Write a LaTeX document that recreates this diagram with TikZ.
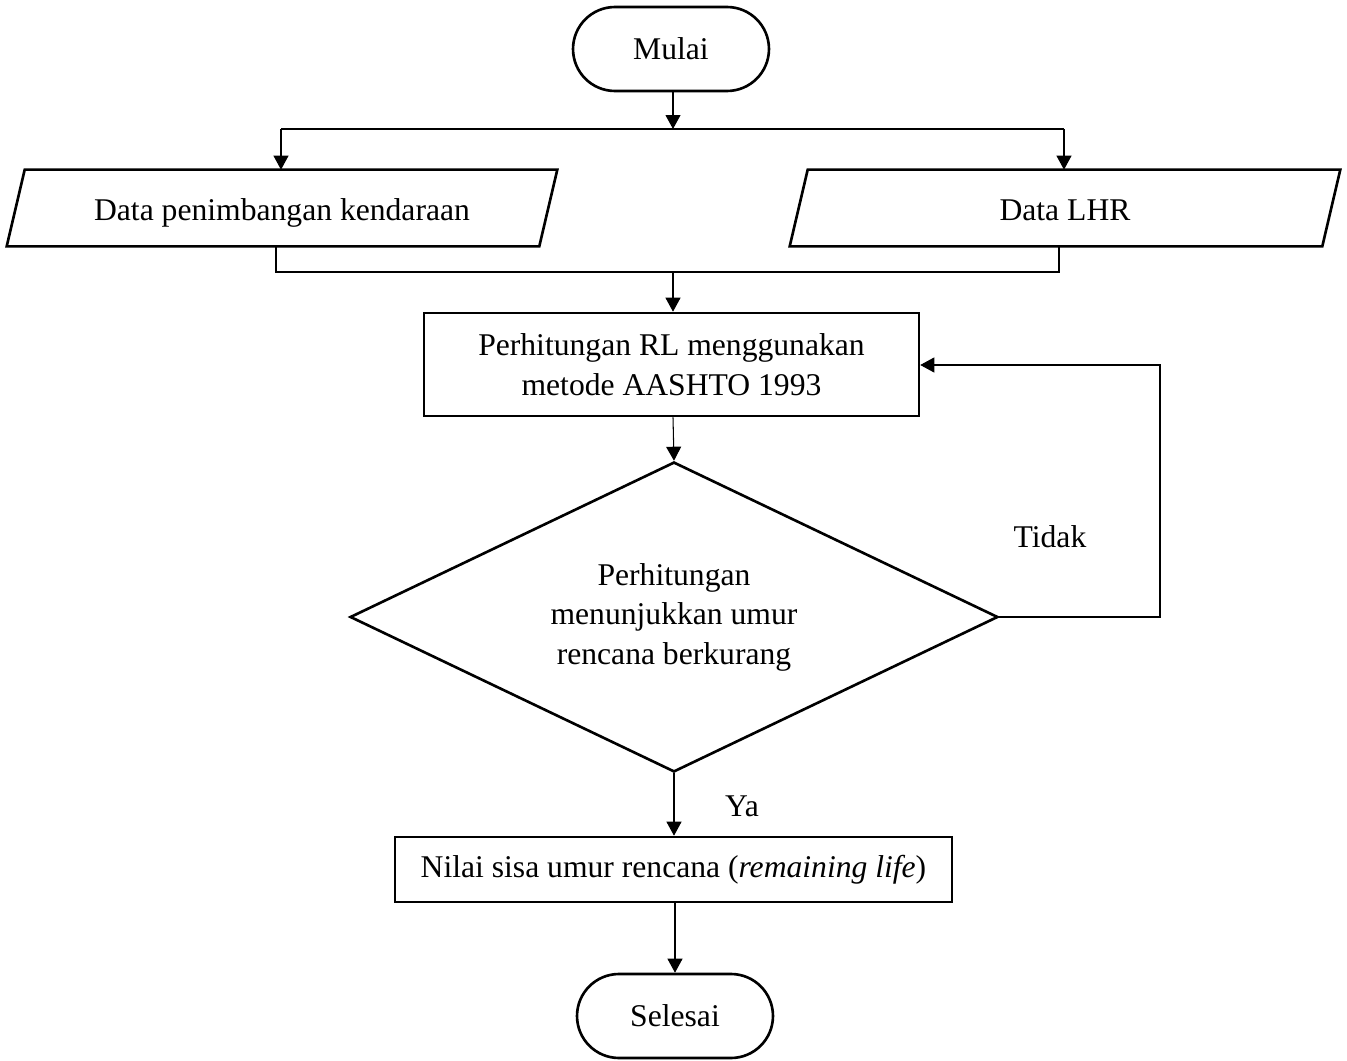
\documentclass[tikz,border=0pt]{standalone}
\usepackage{fontspec}
\setmainfont{Liberation Serif}
\usetikzlibrary{arrows.meta,shapes.geometric,shapes.misc,calc}

\begin{document}
\begin{tikzpicture}[
  x=0.02cm, y=-0.02cm,
  font=\fontsize{18}{22.5}\selectfont,
  shapeline/.style={draw, line width=1.5pt},
  terminal/.style={shapeline, rounded rectangle, minimum width=3.92cm, minimum height=1.68cm, inner sep=0pt},
  procbox/.style={shapeline, rectangle, align=center, inner sep=0pt},
  decision/.style={shapeline, diamond, aspect=2.1, align=center, inner sep=0pt,
                   minimum width=12.96cm, minimum height=6.2cm},
  iobase/.style={minimum width=10.64cm, minimum height=1.52cm, inner sep=0pt,
                 text height=0.72em, text depth=0em},
  conn/.style={line width=0.6pt},
  flow/.style={conn, -{Triangle[length=0.28cm, width=0.3cm]}},
  lbl/.style={inner sep=0pt}
]
% page frame
\useasboundingbox (0,0) rectangle (1347,1061);

% terminals
\node[terminal] (start) at (671,49) {Mulai};
\node[terminal] (stop) at (675,1016) {Selesai};

% input data (parallelograms drawn around text nodes)
\node[iobase] (weigh) at (282,208) {\raisebox{-0.2em}{Data penimbangan kendaraan}};
\node[iobase] (lhr) at (1065,208) {\raisebox{-0.2em}{Data LHR}};
\foreach \n in {weigh,lhr}{
  \draw[shapeline] ($(\n.north west)+(9,0)$) -- ($(\n.north east)+(9,0)$)
    -- ($(\n.south east)+(-9,0)$) -- ($(\n.south west)+(-9,0)$) -- cycle;
}

% process steps
\node[procbox, minimum width=9.9cm, minimum height=2.06cm] (calc) at (671.5,364.5)
  {Perhitungan RL menggunakan\\metode AASHTO 1993};
\node[decision] (check) at (674,617)
  {Perhitungan\\menunjukkan umur\\rencana berkurang};
\node[procbox, minimum width=11.14cm, minimum height=1.3cm] (result) at (673.5,869.5)
  {Nilai sisa umur rencana (\textit{remaining life})};

% branch and merge points
\coordinate (split) at (673,129);
\coordinate (splitL) at (281,129);
\coordinate (splitR) at (1064,129);
\coordinate (mergeL) at (276,272);
\coordinate (mergeR) at (1059,272);
\coordinate (merge) at (673,272);
\coordinate (loopB) at (1160,617);
\coordinate (loopT) at (1160,365);

% connectors
\draw[flow] (start.south -| split) -- (split);
\draw[conn] (splitL) -- (splitR);
\draw[flow] (splitL) -- (splitL |- weigh.north);
\draw[flow] (splitR) -- (splitR |- lhr.north);
\draw[conn] (mergeL |- weigh.south) -- (mergeL) -- (mergeR) -- (mergeR |- lhr.south);
\draw[flow] (merge) -- (merge |- calc.north);
\draw[flow] (calc.south -| merge) -- (check.north);
\draw[flow] (check.east) -- (loopB) -- (loopT) -- (loopT -| calc.east);
\draw[flow] (check.south) -- (check.south |- result.north);
\draw[flow] (result.south -| stop) -- (stop.north);

% branch labels
\node[lbl] (no) at (1050,537) {Tidak};
\node[lbl] (yes) at (742,806) {Ya};
\end{tikzpicture}
\end{document}
